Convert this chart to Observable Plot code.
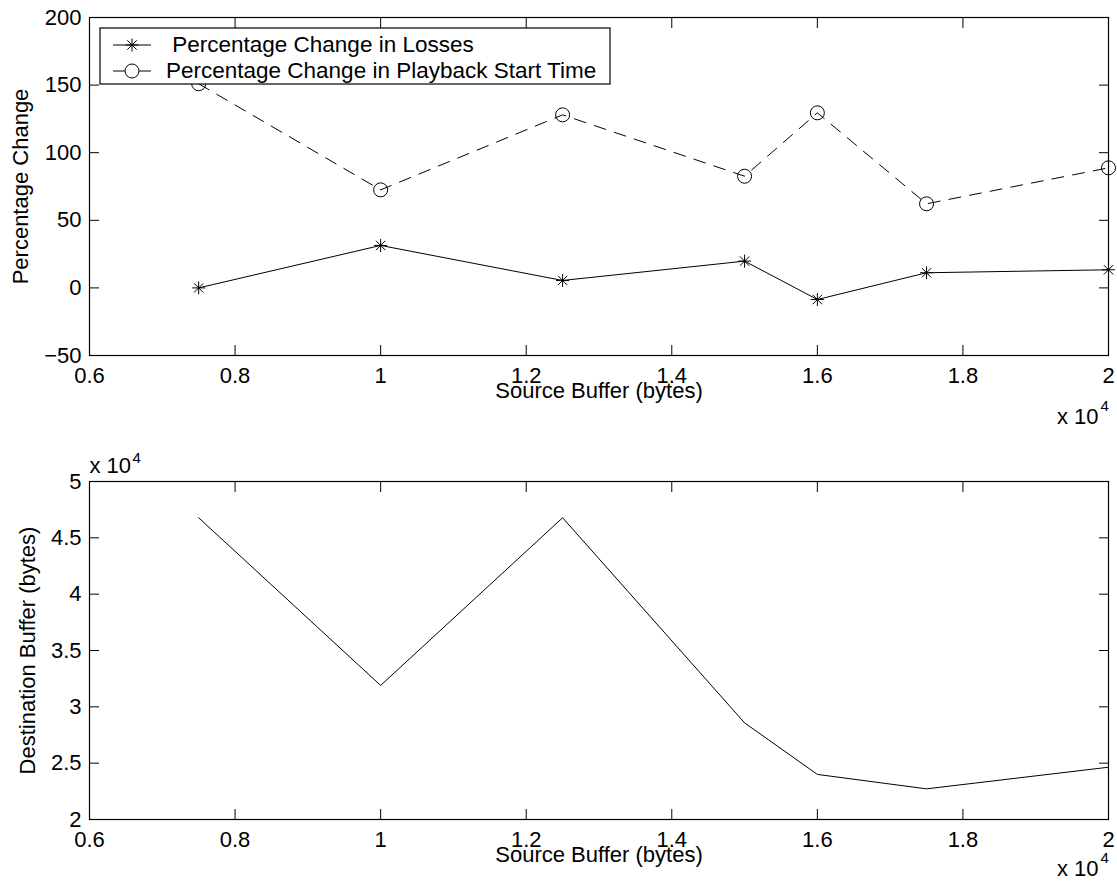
<!DOCTYPE html>
<html><head><meta charset="utf-8">
<script src="https://cdn.jsdelivr.net/npm/d3@7"></script>
<script src="https://cdn.jsdelivr.net/npm/@observablehq/plot@0.6"></script>
<style>body{margin:0;background:#fff} #chart svg{display:block}</style>
</head><body><div id="chart"></div>
<script>
// ---- data ----
const sourceBuffer = [7500, 10000, 12500, 15000, 16000, 17500, 20000];
const lossChange = [0, 31.4, 5.5, 19.8, -8.6, 11.2, 13.4];
const playbackChange = [151, 72.5, 128, 82.6, 129.5, 62.2, 88.8];
const destBuffer = [46780, 31900, 46780, 28580, 24000, 22720, 24640];
const seriesNames = [" Percentage Change in Losses", "Percentage Change in Playback Start Time"];
const xTicks = [6000, 8000, 10000, 12000, 14000, 16000, 18000, 20000];
const yTicksTop = [-50, 0, 50, 100, 150, 200];
const yTicksBottom = [20000, 25000, 30000, 35000, 40000, 45000, 50000];
const xLabel = "Source Buffer (bytes)";
const yLabelTop = "Percentage Change";
const yLabelBottom = "Destination Buffer (bytes)";
const expBase = "x 10", expPower = "4";

const topData = sourceBuffer.map((x, i) => ({x, loss: lossChange[i], playback: playbackChange[i]}));
const bottomData = sourceBuffer.map((x, i) => ({x, dest: destBuffer[i]}));

const font = "'Liberation Sans', Arial, Helvetica, sans-serif";
const FS = 22;
const W = 1117;
const fmtScaled = d => String(d / 1e4);
const fmtMinus = d => d < 0 ? "\u2212" + (-d) : String(d);
const asterisk = {
  draw(ctx, size) {
    const r = Math.sqrt(size / Math.PI), d = r * 0.72;
    ctx.moveTo(0, -r); ctx.lineTo(0, r);
    ctx.moveTo(-r, 0); ctx.lineTo(r, 0);
    ctx.moveTo(-d, -d); ctx.lineTo(d, d);
    ctx.moveTo(-d, d); ctx.lineTo(d, -d);
  }
};
const style = {fontFamily: font, fontSize: FS + "px", color: "black", background: "white", overflow: "visible"};

function frameAxes(yTicks, yFmt) {
  return [
    Plot.frame({stroke: "black", strokeWidth: 1.2}),
    Plot.axisX({anchor: "bottom", ticks: xTicks, tickSize: -10, tickPadding: 22, tickFormat: fmtScaled, label: null, fontSize: FS}),
    Plot.axisX({anchor: "top", ticks: xTicks, tickSize: -10, tickFormat: () => "", label: null}),
    Plot.axisY({anchor: "left", ticks: yTicks, tickSize: -10, tickPadding: 18, tickFormat: yFmt, label: null, fontSize: FS}),
    Plot.axisY({anchor: "right", ticks: yTicks, tickSize: -10, tickFormat: () => "", label: null})
  ];
}

const topPlot = Plot.plot({
  width: W, height: 445, marginTop: 17, marginBottom: 90, marginLeft: 89, marginRight: 9,
  style,
  x: {domain: [6000, 20000]},
  y: {domain: [-50, 200]},
  marks: [
    Plot.line(topData, {x: "x", y: "playback", stroke: "black", strokeWidth: 1, strokeDasharray: "12,9"}),
    Plot.dot(topData, {x: "x", y: "playback", symbol: "circle", r: 7, stroke: "black", fill: "none", strokeWidth: 1}),
    Plot.line(topData, {x: "x", y: "loss", stroke: "black", strokeWidth: 1}),
    Plot.dot(topData, {x: "x", y: "loss", symbol: asterisk, r: 6.5, stroke: "black", fill: "none", strokeWidth: 1}),
    ...frameAxes(yTicksTop, fmtMinus),
    Plot.text([xLabel], {text: d => d, frameAnchor: "bottom", dy: 35, lineAnchor: "middle", fontSize: FS}),
    Plot.text([yLabelTop], {text: d => d, frameAnchor: "left", dx: -62, rotate: -90, lineAnchor: "bottom", textAnchor: "middle", fontSize: FS}),
    Plot.text([expBase], {text: d => d, frameAnchor: "bottom-right", dx: -10, dy: 68, lineAnchor: "bottom", textAnchor: "end", fontSize: FS}),
    Plot.text([expPower], {text: d => d, frameAnchor: "bottom-right", dx: -8, dy: 55, lineAnchor: "bottom", textAnchor: "start", fontSize: 15})
  ]
});

const bottomPlot = Plot.plot({
  width: W, height: 445, marginTop: 36, marginBottom: 71, marginLeft: 89, marginRight: 9,
  style,
  x: {domain: [6000, 20000]},
  y: {domain: [20000, 50000]},
  marks: [
    Plot.line(bottomData, {x: "x", y: "dest", stroke: "black", strokeWidth: 1}),
    ...frameAxes(yTicksBottom, fmtScaled),
    Plot.text([xLabel], {text: d => d, frameAnchor: "bottom", dy: 35, lineAnchor: "middle", fontSize: FS}),
    Plot.text([yLabelBottom], {text: d => d, frameAnchor: "left", dx: -55, rotate: -90, lineAnchor: "bottom", textAnchor: "middle", fontSize: FS}),
    Plot.text([expBase], {text: d => d, frameAnchor: "bottom-right", dx: -10, dy: 56, lineAnchor: "bottom", textAnchor: "end", fontSize: FS}),
    Plot.text([expPower], {text: d => d, frameAnchor: "bottom-right", dx: -8, dy: 43, lineAnchor: "bottom", textAnchor: "start", fontSize: 15}),
    Plot.text([expBase], {text: d => d, frameAnchor: "top-left", dx: 0, dy: -9, lineAnchor: "bottom", textAnchor: "start", fontSize: FS}),
    Plot.text([expPower], {text: d => d, frameAnchor: "top-left", dx: 43, dy: -19, lineAnchor: "bottom", textAnchor: "start", fontSize: 15})
  ]
});

// ---- legend (MATLAB-style box, drawn over the data) ----
const svgTop = d3.select(topPlot);
const lg = svgTop.append("g").attr("font-family", font).attr("font-size", 22.5).attr("text-anchor", "start");
lg.append("rect").attr("x", 100).attr("y", 28).attr("width", 510).attr("height", 56)
  .attr("fill", "white").attr("stroke", "black").attr("stroke-width", 1.2);
const rows = [
  {name: seriesNames[0], cy: 45, base: 52, sym: "asterisk"},
  {name: seriesNames[1], cy: 71, base: 78, sym: "circle"}
];
rows.forEach(r => {
  lg.append("line").attr("x1", 113).attr("x2", 151).attr("y1", r.cy).attr("y2", r.cy)
    .attr("stroke", "black").attr("stroke-width", 1);
  if (r.sym === "circle") {
    lg.append("circle").attr("cx", 132).attr("cy", r.cy).attr("r", 7)
      .attr("fill", "white").attr("stroke", "black").attr("stroke-width", 1);
  } else {
    lg.append("path").attr("transform", `translate(132,${r.cy})`)
      .attr("d", d3.symbol(asterisk, Math.PI * 6.5 * 6.5)())
      .attr("fill", "none").attr("stroke", "black").attr("stroke-width", 1);
  }
  lg.append("text").attr("x", 166).attr("y", r.base).attr("text-anchor", "start")
    .style("white-space", "pre").attr("fill", "black").text(r.name);
});

const chart = document.getElementById("chart");
chart.append(topPlot, bottomPlot);
</script>
</body></html>
